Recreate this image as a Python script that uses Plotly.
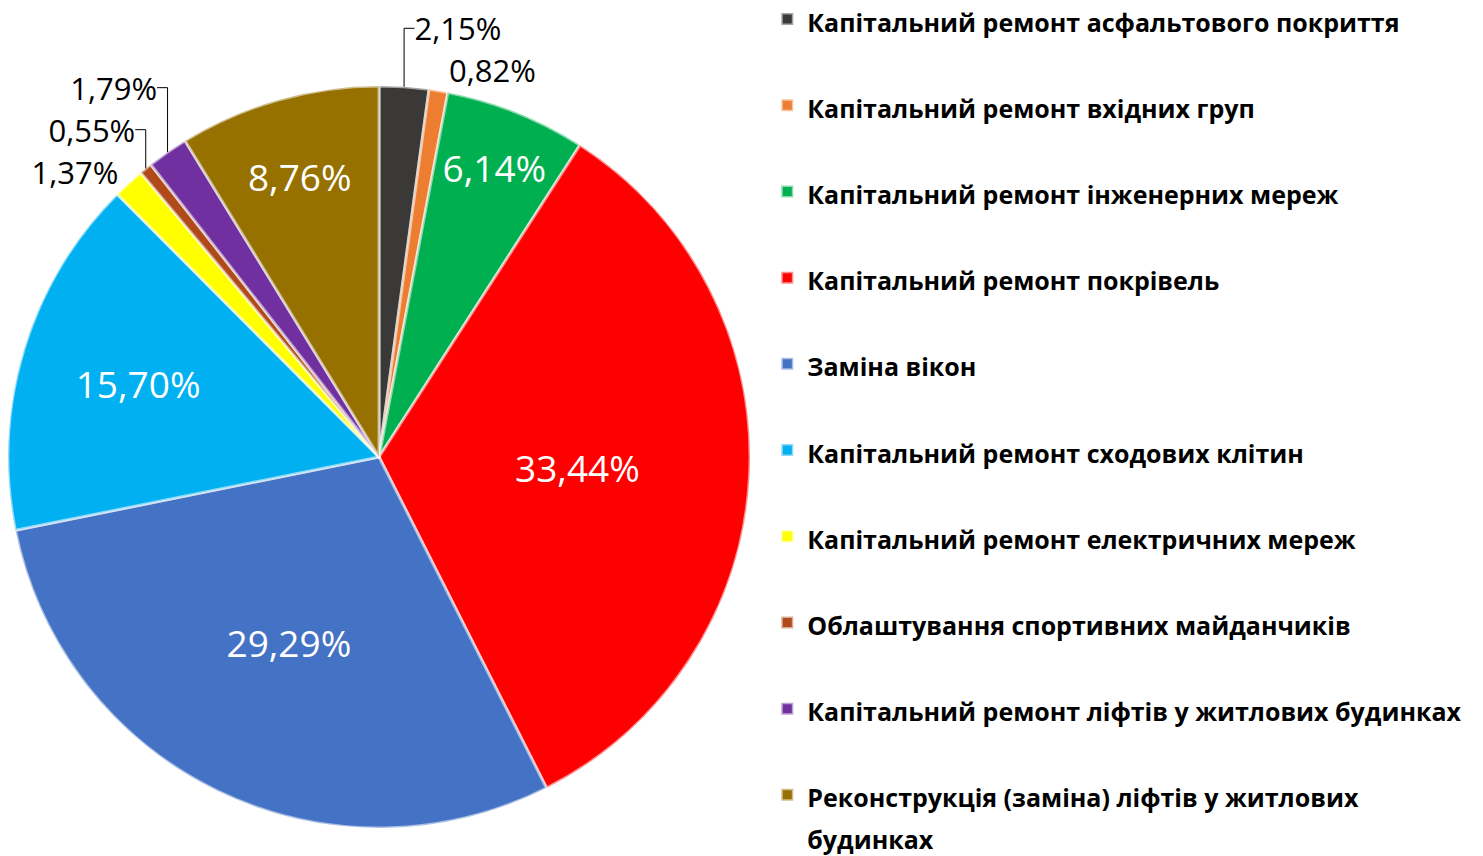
import plotly.graph_objects as go

categories = [
    "Капітальний ремонт асфальтового покриття",
    "Капітальний ремонт вхідних груп",
    "Капітальний ремонт інженерних мереж",
    "Капітальний ремонт покрівель",
    "Заміна вікон",
    "Капітальний ремонт сходових клітин",
    "Капітальний ремонт електричних мереж",
    "Облаштування спортивних майданчиків",
    "Капітальний ремонт ліфтів у житлових будинках",
    "Реконструкція (заміна) ліфтів у житлових<br>будинках",
]
values = [2.15, 0.82, 6.14, 33.44, 29.29, 15.70, 1.37, 0.55, 1.79, 8.76]
colors = ["#3b3838", "#ed7d31", "#00b050", "#ff0000", "#4472c4",
          "#00b0f0", "#ffff00", "#b04a1a", "#7030a0", "#967100"]
text_positions = ["outside", "outside", "inside", "inside", "inside",
                  "inside", "outside", "outside", "outside", "inside"]

labels_txt = [f"{v:.2f}%".replace(".", ",") for v in values]
text_colors = ["black" if p == "outside" else "white" for p in text_positions]
text_sizes = [31 if p == "outside" else 37 for p in text_positions]


def legend_label(c):
    parts = c.split("<br>")
    lines = "<br>".join(f"<span style='font-size:25px'>{ln}</span>" for ln in parts)
    return lines if len(parts) > 1 else lines + "<br> "


legend_labels = [legend_label(c) for c in categories]

fig = go.Figure(go.Pie(
    labels=legend_labels,
    values=values,
    text=labels_txt,
    textinfo="text",
    textposition=text_positions,
    textfont=dict(family="Open Sans", size=text_sizes, color=text_colors),
    insidetextorientation="horizontal",
    sort=False,
    direction="clockwise",
    rotation=0,
    marker=dict(colors=colors, line=dict(color="rgba(255,255,255,0.55)", width=3)),
    domain=dict(x=[0.0, 0.5004], y=[0.0421, 0.9089]),
    hoverinfo="percent",
))

fig.update_layout(
    width=1483, height=856,
    margin=dict(l=0, r=0, t=0, b=0, autoexpand=False),
    paper_bgcolor="white",
    plot_bgcolor="white",
    showlegend=True,
    legend=dict(
        x=0.512, y=1.019, xanchor="left", yanchor="top",
        font=dict(family="Open Sans", size=32, color="black", weight="bold"),
        valign="top",
        itemwidth=30,
        bgcolor="rgba(0,0,0,0)",
    ),
)
try:
    fig.update_layout(legend_maxheight=1200)
except Exception:
    pass

fig.write_html("out.html")
